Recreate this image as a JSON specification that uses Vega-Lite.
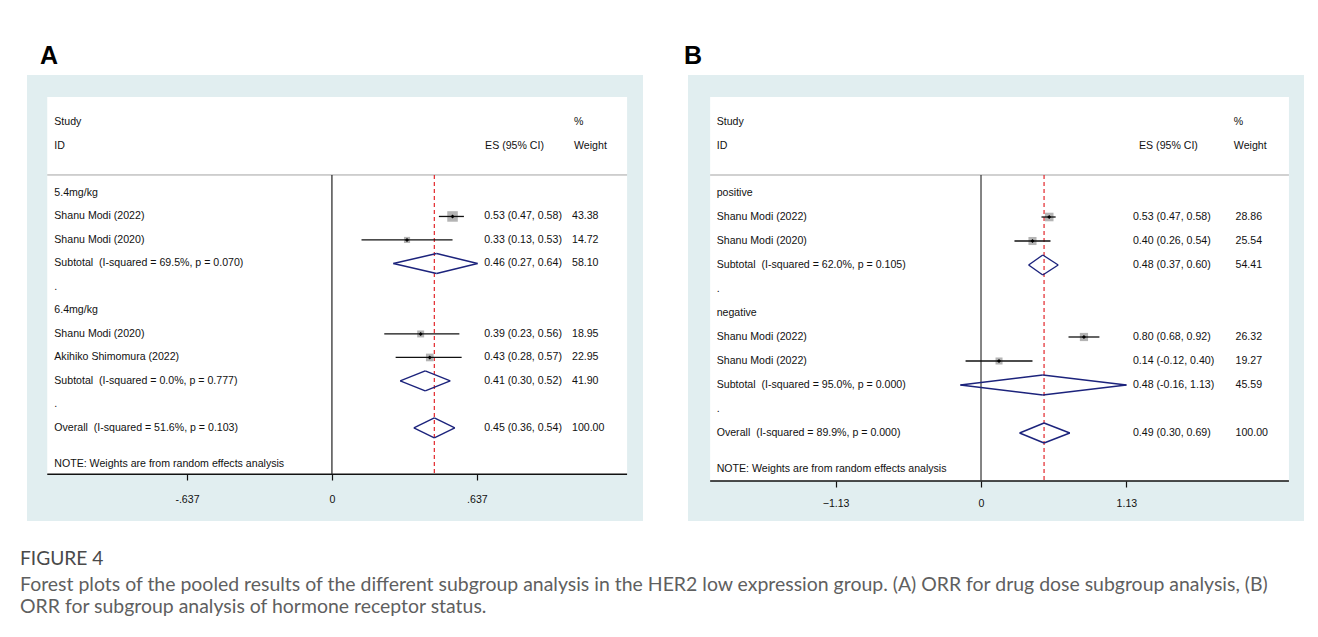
{
  "$schema": "https://vega.github.io/schema/vega-lite/v6.json",
  "background": "white",
  "padding": {"left": 20, "top": 44, "right": 14, "bottom": 0},
  "title": {
    "text": "FIGURE 4",
    "subtitle": ["Forest plots of the pooled results of the different subgroup analysis in the HER2 low expression group. (A) ORR for drug dose subgroup analysis, (B)", "ORR for subgroup analysis of hormone receptor status."],
    "orient": "bottom", "anchor": "start", "dx": -7, "offset": 29,
    "font": "Lato", "fontSize": 19.2, "fontWeight": "normal", "color": "#4a4a4a",
    "subtitleFont": "Lato", "subtitleFontSize": 19.45, "subtitleColor": "#5f5f5f", "subtitlePadding": 7, "subtitleLineHeight": 22
  },
  "datasets": {
    "A": [
      {"label": "5.4mg/kg", "type": "group", "row": 1},
      {"label": "Shanu Modi (2022)", "type": "study", "row": 2, "es": 0.53, "lo": 0.47, "hi": 0.58, "es_text": "0.53 (0.47, 0.58)", "weight": 43.38},
      {"label": "Shanu Modi (2020)", "type": "study", "row": 3, "es": 0.33, "lo": 0.13, "hi": 0.53, "es_text": "0.33 (0.13, 0.53)", "weight": 14.72},
      {"label": "Subtotal\u00a0 (I-squared = 69.5%, p = 0.070)", "type": "subtotal", "row": 4, "es": 0.46, "lo": 0.27, "hi": 0.64, "es_text": "0.46 (0.27, 0.64)", "weight": 58.10},
      {"label": ".", "type": "blank", "row": 5},
      {"label": "6.4mg/kg", "type": "group", "row": 6},
      {"label": "Shanu Modi (2020)", "type": "study", "row": 7, "es": 0.39, "lo": 0.23, "hi": 0.56, "es_text": "0.39 (0.23, 0.56)", "weight": 18.95},
      {"label": "Akihiko Shimomura (2022)", "type": "study", "row": 8, "es": 0.43, "lo": 0.28, "hi": 0.57, "es_text": "0.43 (0.28, 0.57)", "weight": 22.95},
      {"label": "Subtotal\u00a0 (I-squared = 0.0%, p = 0.777)", "type": "subtotal", "row": 9, "es": 0.41, "lo": 0.30, "hi": 0.52, "es_text": "0.41 (0.30, 0.52)", "weight": 41.90},
      {"label": ".", "type": "blank", "row": 10},
      {"label": "Overall\u00a0 (I-squared = 51.6%, p = 0.103)", "type": "overall", "row": 11, "es": 0.45, "lo": 0.36, "hi": 0.54, "es_text": "0.45 (0.36, 0.54)", "weight": 100.00}
    ],
    "B": [
      {"label": "positive", "type": "group", "row": 1},
      {"label": "Shanu Modi (2022)", "type": "study", "row": 2, "es": 0.53, "lo": 0.47, "hi": 0.58, "es_text": "0.53 (0.47, 0.58)", "weight": 28.86},
      {"label": "Shanu Modi (2020)", "type": "study", "row": 3, "es": 0.40, "lo": 0.26, "hi": 0.54, "es_text": "0.40 (0.26, 0.54)", "weight": 25.54},
      {"label": "Subtotal\u00a0 (I-squared = 62.0%, p = 0.105)", "type": "subtotal", "row": 4, "es": 0.48, "lo": 0.37, "hi": 0.60, "es_text": "0.48 (0.37, 0.60)", "weight": 54.41},
      {"label": ".", "type": "blank", "row": 5},
      {"label": "negative", "type": "group", "row": 6},
      {"label": "Shanu Modi (2022)", "type": "study", "row": 7, "es": 0.80, "lo": 0.68, "hi": 0.92, "es_text": "0.80 (0.68, 0.92)", "weight": 26.32},
      {"label": "Shanu Modi (2022)", "type": "study", "row": 8, "es": 0.14, "lo": -0.12, "hi": 0.40, "es_text": "0.14 (-0.12, 0.40)", "weight": 19.27},
      {"label": "Subtotal\u00a0 (I-squared = 95.0%, p = 0.000)", "type": "subtotal", "row": 9, "es": 0.48, "lo": -0.16, "hi": 1.13, "es_text": "0.48 (-0.16, 1.13)", "weight": 45.59},
      {"label": ".", "type": "blank", "row": 10},
      {"label": "Overall\u00a0 (I-squared = 89.9%, p = 0.000)", "type": "overall", "row": 11, "es": 0.49, "lo": 0.30, "hi": 0.69, "es_text": "0.49 (0.30, 0.69)", "weight": 100.00}
    ]
  },
  "spacing": 41,
  "hconcat": [
    {
      "width": 616, "height": 446,
      "title": {"text": "A", "anchor": "start", "fontSize": 25, "fontWeight": "bold", "font": "Liberation Sans", "color": "#000000", "dx": 13, "offset": 6},
      "data": {"name": "A"},
      "layer": [
        {"data": {"values": [{}]}, "mark": {"type": "rect", "fill": "white"},
         "encoding": {
           "x": {"datum": -1.251, "type": "quantitative", "scale": {"domain": [-1.34, 1.367], "nice": false, "zero": false},
                 "axis": {"title": null, "values": [-0.637, 0, 0.637], "labelExpr": "datum.value == 0 ? '0' : (datum.value < 0 ? '-.637' : '.637')", "domain": false, "grid": false, "ticks": true, "tickSize": 6, "tickColor": "#111111", "tickWidth": 1.2, "labelPadding": 14, "labelFont": "Liberation Sans", "labelFontSize": 10.6, "labelColor": "#111111", "offset": -47, "labelFlush": false, "labelOverlap": false, "zindex": 1}},
           "x2": {"datum": 1.297},
           "y": {"datum": -3.085, "type": "quantitative", "scale": {"domain": [-4.02, 14.96], "nice": false, "zero": false, "reverse": true}, "axis": null},
           "y2": {"datum": 12.97}}},
        {"data": {"values": [{}]}, "mark": {"type": "rule", "color": "#a3a3a3", "strokeWidth": 1},
         "encoding": {"x": {"datum": -1.251, "type": "quantitative"}, "x2": {"datum": 1.297}, "y": {"datum": 0.234, "type": "quantitative", "axis": null}}},
        {"data": {"values": [{}]}, "mark": {"type": "rule", "color": "#111111", "strokeWidth": 1.5},
         "encoding": {"x": {"datum": -1.251, "type": "quantitative"}, "x2": {"datum": 1.297}, "y": {"datum": 12.97, "type": "quantitative", "axis": null}}},
        {"data": {"values": [{}]}, "mark": {"type": "rule", "color": "#222222", "strokeWidth": 1.2},
         "encoding": {"x": {"datum": 0, "type": "quantitative"}, "y": {"datum": 0.234, "type": "quantitative", "axis": null}, "y2": {"datum": 12.97}}},
        {"transform": [{"filter": "datum.type == 'overall'"}], "mark": {"type": "rule", "color": "#e2262b", "strokeWidth": 1.2, "strokeDash": [4, 3]},
         "encoding": {"x": {"field": "es", "type": "quantitative"}, "y": {"datum": 0.234, "type": "quantitative", "axis": null}, "y2": {"datum": 12.97}}},
        {"transform": [{"filter": "datum.type == 'study'"}], "mark": {"type": "point", "shape": "square", "filled": true, "color": "#b4b4b4", "opacity": 1},
         "encoding": {"x": {"field": "es", "type": "quantitative"}, "y": {"field": "row", "type": "quantitative", "axis": null},
                      "size": {"field": "weight", "type": "quantitative", "scale": {"domain": [0, 45], "range": [0, 115]}, "legend": null}}},
        {"transform": [{"filter": "datum.type == 'study'"}], "mark": {"type": "rule", "color": "#111111", "strokeWidth": 1.3},
         "encoding": {"x": {"field": "lo", "type": "quantitative"}, "x2": {"field": "hi"}, "y": {"field": "row", "type": "quantitative", "axis": null}}},
        {"transform": [{"filter": "datum.type == 'study'"}], "mark": {"type": "point", "shape": "diamond", "filled": true, "color": "#000000", "opacity": 1, "size": 16},
         "encoding": {"x": {"field": "es", "type": "quantitative"}, "y": {"field": "row", "type": "quantitative", "axis": null}}},
        {"transform": [{"filter": "datum.type == 'subtotal' || datum.type == 'overall'"}], "mark": {"type": "rule", "color": "#1c237c", "strokeWidth": 1.4, "y2Offset": -10},
         "encoding": {"x": {"field": "lo", "type": "quantitative"}, "x2": {"field": "es"}, "y": {"field": "row", "type": "quantitative", "axis": null}, "y2": {"field": "row"}}},
        {"transform": [{"filter": "datum.type == 'subtotal' || datum.type == 'overall'"}], "mark": {"type": "rule", "color": "#1c237c", "strokeWidth": 1.4, "yOffset": -10},
         "encoding": {"x": {"field": "es", "type": "quantitative"}, "x2": {"field": "hi"}, "y": {"field": "row", "type": "quantitative", "axis": null}, "y2": {"field": "row"}}},
        {"transform": [{"filter": "datum.type == 'subtotal' || datum.type == 'overall'"}], "mark": {"type": "rule", "color": "#1c237c", "strokeWidth": 1.4, "y2Offset": 10},
         "encoding": {"x": {"field": "hi", "type": "quantitative"}, "x2": {"field": "es"}, "y": {"field": "row", "type": "quantitative", "axis": null}, "y2": {"field": "row"}}},
        {"transform": [{"filter": "datum.type == 'subtotal' || datum.type == 'overall'"}], "mark": {"type": "rule", "color": "#1c237c", "strokeWidth": 1.4, "yOffset": 10},
         "encoding": {"x": {"field": "es", "type": "quantitative"}, "x2": {"field": "lo"}, "y": {"field": "row", "type": "quantitative", "axis": null}, "y2": {"field": "row"}}},
        {"mark": {"type": "text", "align": "left", "baseline": "middle", "font": "Liberation Sans", "fontSize": 10.6, "color": "#111111"},
         "encoding": {"x": {"datum": -1.22, "type": "quantitative"}, "y": {"field": "row", "type": "quantitative", "axis": null}, "text": {"field": "label"}}},
        {"transform": [{"filter": "isValid(datum.es_text)"}], "mark": {"type": "text", "align": "left", "baseline": "middle", "font": "Liberation Sans", "fontSize": 10.6, "color": "#111111"},
         "encoding": {"x": {"datum": 0.669, "type": "quantitative"}, "y": {"field": "row", "type": "quantitative", "axis": null}, "text": {"field": "es_text"}}},
        {"transform": [{"filter": "isValid(datum.weight)"}], "mark": {"type": "text", "align": "left", "baseline": "middle", "font": "Liberation Sans", "fontSize": 10.6, "color": "#111111"},
         "encoding": {"x": {"datum": 1.055, "type": "quantitative"}, "y": {"field": "row", "type": "quantitative", "axis": null}, "text": {"field": "weight", "type": "quantitative", "format": ".2f"}}},
        {"data": {"values": [{}]}, "mark": {"type": "text", "text": "Study", "align": "left", "baseline": "middle", "font": "Liberation Sans", "fontSize": 10.6, "color": "#111111"},
         "encoding": {"x": {"datum": -1.22, "type": "quantitative"}, "y": {"datum": -2.02, "type": "quantitative", "axis": null}}},
        {"data": {"values": [{}]}, "mark": {"type": "text", "text": "ID", "align": "left", "baseline": "middle", "font": "Liberation Sans", "fontSize": 10.6, "color": "#111111"},
         "encoding": {"x": {"datum": -1.22, "type": "quantitative"}, "y": {"datum": -1.0, "type": "quantitative", "axis": null}}},
        {"data": {"values": [{}]}, "mark": {"type": "text", "text": "ES (95% CI)", "align": "left", "baseline": "middle", "font": "Liberation Sans", "fontSize": 10.6, "color": "#111111"},
         "encoding": {"x": {"datum": 0.673, "type": "quantitative"}, "y": {"datum": -1.0, "type": "quantitative", "axis": null}}},
        {"data": {"values": [{}]}, "mark": {"type": "text", "text": "%", "align": "left", "baseline": "middle", "font": "Liberation Sans", "fontSize": 10.6, "color": "#111111"},
         "encoding": {"x": {"datum": 1.064, "type": "quantitative"}, "y": {"datum": -2.02, "type": "quantitative", "axis": null}}},
        {"data": {"values": [{}]}, "mark": {"type": "text", "text": "Weight", "align": "left", "baseline": "middle", "font": "Liberation Sans", "fontSize": 10.6, "color": "#111111"},
         "encoding": {"x": {"datum": 1.064, "type": "quantitative"}, "y": {"datum": -1.0, "type": "quantitative", "axis": null}}},
        {"data": {"values": [{}]}, "mark": {"type": "text", "text": "NOTE: Weights are from random effects analysis", "align": "left", "baseline": "middle", "font": "Liberation Sans", "fontSize": 10.6, "color": "#111111"},
         "encoding": {"x": {"datum": -1.22, "type": "quantitative"}, "y": {"datum": 12.52, "type": "quantitative", "axis": null}}}
      ]
    },
    {
      "width": 616, "height": 446,
      "title": {"text": "B", "anchor": "start", "fontSize": 25, "fontWeight": "bold", "font": "Liberation Sans", "color": "#000000", "dx": -4, "offset": 6},
      "data": {"name": "B"},
      "layer": [
        {"data": {"values": [{}]}, "mark": {"type": "rect", "fill": "white"},
         "encoding": {
           "x": {"datum": -2.105, "type": "quantitative", "scale": {"domain": [-2.277, 2.51], "nice": false, "zero": false},
                 "axis": {"title": null, "values": [-1.13, 0, 1.13], "labelExpr": "datum.value == 0 ? '0' : format(datum.value, '.2f')", "domain": false, "grid": false, "ticks": true, "tickSize": 6, "tickColor": "#111111", "tickWidth": 1.2, "labelPadding": 11, "labelFont": "Liberation Sans", "labelFontSize": 10.6, "labelColor": "#111111", "offset": -40, "labelFlush": false, "labelOverlap": false, "zindex": 1}},
           "x2": {"datum": 2.393},
           "y": {"datum": -3.0, "type": "quantitative", "scale": {"domain": [-3.917, 14.667], "nice": false, "zero": false, "reverse": true}, "axis": null},
           "y2": {"datum": 13.0}}},
        {"data": {"values": [{}]}, "mark": {"type": "rule", "color": "#a3a3a3", "strokeWidth": 1},
         "encoding": {"x": {"datum": -2.105, "type": "quantitative"}, "x2": {"datum": 2.393}, "y": {"datum": 0.25, "type": "quantitative", "axis": null}}},
        {"data": {"values": [{}]}, "mark": {"type": "rule", "color": "#111111", "strokeWidth": 1.5},
         "encoding": {"x": {"datum": -2.105, "type": "quantitative"}, "x2": {"datum": 2.393}, "y": {"datum": 13.0, "type": "quantitative", "axis": null}}},
        {"data": {"values": [{}]}, "mark": {"type": "rule", "color": "#333333", "strokeWidth": 1.2},
         "encoding": {"x": {"datum": 0, "type": "quantitative"}, "y": {"datum": 0.25, "type": "quantitative", "axis": null}, "y2": {"datum": 13.0}}},
        {"transform": [{"filter": "datum.type == 'overall'"}], "mark": {"type": "rule", "color": "#e2262b", "strokeWidth": 1.2, "strokeDash": [4, 3]},
         "encoding": {"x": {"field": "es", "type": "quantitative"}, "y": {"datum": 0.25, "type": "quantitative", "axis": null}, "y2": {"datum": 13.0}}},
        {"transform": [{"filter": "datum.type == 'study'"}], "mark": {"type": "point", "shape": "square", "filled": true, "color": "#b4b4b4", "opacity": 1},
         "encoding": {"x": {"field": "es", "type": "quantitative"}, "y": {"field": "row", "type": "quantitative", "axis": null},
                      "size": {"field": "weight", "type": "quantitative", "scale": {"domain": [0, 45], "range": [0, 115]}, "legend": null}}},
        {"transform": [{"filter": "datum.type == 'study'"}], "mark": {"type": "rule", "color": "#111111", "strokeWidth": 1.3},
         "encoding": {"x": {"field": "lo", "type": "quantitative"}, "x2": {"field": "hi"}, "y": {"field": "row", "type": "quantitative", "axis": null}}},
        {"transform": [{"filter": "datum.type == 'study'"}], "mark": {"type": "point", "shape": "diamond", "filled": true, "color": "#000000", "opacity": 1, "size": 16},
         "encoding": {"x": {"field": "es", "type": "quantitative"}, "y": {"field": "row", "type": "quantitative", "axis": null}}},
        {"transform": [{"filter": "datum.type == 'subtotal' || datum.type == 'overall'"}], "mark": {"type": "rule", "color": "#1c237c", "strokeWidth": 1.4, "y2Offset": -10},
         "encoding": {"x": {"field": "lo", "type": "quantitative"}, "x2": {"field": "es"}, "y": {"field": "row", "type": "quantitative", "axis": null}, "y2": {"field": "row"}}},
        {"transform": [{"filter": "datum.type == 'subtotal' || datum.type == 'overall'"}], "mark": {"type": "rule", "color": "#1c237c", "strokeWidth": 1.4, "yOffset": -10},
         "encoding": {"x": {"field": "es", "type": "quantitative"}, "x2": {"field": "hi"}, "y": {"field": "row", "type": "quantitative", "axis": null}, "y2": {"field": "row"}}},
        {"transform": [{"filter": "datum.type == 'subtotal' || datum.type == 'overall'"}], "mark": {"type": "rule", "color": "#1c237c", "strokeWidth": 1.4, "y2Offset": 10},
         "encoding": {"x": {"field": "hi", "type": "quantitative"}, "x2": {"field": "es"}, "y": {"field": "row", "type": "quantitative", "axis": null}, "y2": {"field": "row"}}},
        {"transform": [{"filter": "datum.type == 'subtotal' || datum.type == 'overall'"}], "mark": {"type": "rule", "color": "#1c237c", "strokeWidth": 1.4, "yOffset": 10},
         "encoding": {"x": {"field": "es", "type": "quantitative"}, "x2": {"field": "lo"}, "y": {"field": "row", "type": "quantitative", "axis": null}, "y2": {"field": "row"}}},
        {"mark": {"type": "text", "align": "left", "baseline": "middle", "font": "Liberation Sans", "fontSize": 10.6, "color": "#111111"},
         "encoding": {"x": {"datum": -2.054, "type": "quantitative"}, "y": {"field": "row", "type": "quantitative", "axis": null}, "text": {"field": "label"}}},
        {"transform": [{"filter": "isValid(datum.es_text)"}], "mark": {"type": "text", "align": "left", "baseline": "middle", "font": "Liberation Sans", "fontSize": 10.6, "color": "#111111"},
         "encoding": {"x": {"datum": 1.181, "type": "quantitative"}, "y": {"field": "row", "type": "quantitative", "axis": null}, "text": {"field": "es_text"}}},
        {"transform": [{"filter": "isValid(datum.weight)"}], "mark": {"type": "text", "align": "left", "baseline": "middle", "font": "Liberation Sans", "fontSize": 10.6, "color": "#111111"},
         "encoding": {"x": {"datum": 1.978, "type": "quantitative"}, "y": {"field": "row", "type": "quantitative", "axis": null}, "text": {"field": "weight", "type": "quantitative", "format": ".2f"}}},
        {"data": {"values": [{}]}, "mark": {"type": "text", "text": "Study", "align": "left", "baseline": "middle", "font": "Liberation Sans", "fontSize": 10.6, "color": "#111111"},
         "encoding": {"x": {"datum": -2.054, "type": "quantitative"}, "y": {"datum": -1.96, "type": "quantitative", "axis": null}}},
        {"data": {"values": [{}]}, "mark": {"type": "text", "text": "ID", "align": "left", "baseline": "middle", "font": "Liberation Sans", "fontSize": 10.6, "color": "#111111"},
         "encoding": {"x": {"datum": -2.054, "type": "quantitative"}, "y": {"datum": -0.96, "type": "quantitative", "axis": null}}},
        {"data": {"values": [{}]}, "mark": {"type": "text", "text": "ES (95% CI)", "align": "left", "baseline": "middle", "font": "Liberation Sans", "fontSize": 10.6, "color": "#111111"},
         "encoding": {"x": {"datum": 1.228, "type": "quantitative"}, "y": {"datum": -0.96, "type": "quantitative", "axis": null}}},
        {"data": {"values": [{}]}, "mark": {"type": "text", "text": "%", "align": "left", "baseline": "middle", "font": "Liberation Sans", "fontSize": 10.6, "color": "#111111"},
         "encoding": {"x": {"datum": 1.965, "type": "quantitative"}, "y": {"datum": -1.96, "type": "quantitative", "axis": null}}},
        {"data": {"values": [{}]}, "mark": {"type": "text", "text": "Weight", "align": "left", "baseline": "middle", "font": "Liberation Sans", "fontSize": 10.6, "color": "#111111"},
         "encoding": {"x": {"datum": 1.965, "type": "quantitative"}, "y": {"datum": -0.96, "type": "quantitative", "axis": null}}},
        {"data": {"values": [{}]}, "mark": {"type": "text", "text": "NOTE: Weights are from random effects analysis", "align": "left", "baseline": "middle", "font": "Liberation Sans", "fontSize": 10.6, "color": "#111111"},
         "encoding": {"x": {"datum": -2.054, "type": "quantitative"}, "y": {"datum": 12.5, "type": "quantitative", "axis": null}}}
      ]
    }
  ],
  "config": {"view": {"stroke": null, "fill": "#e1eef0"}}
}
